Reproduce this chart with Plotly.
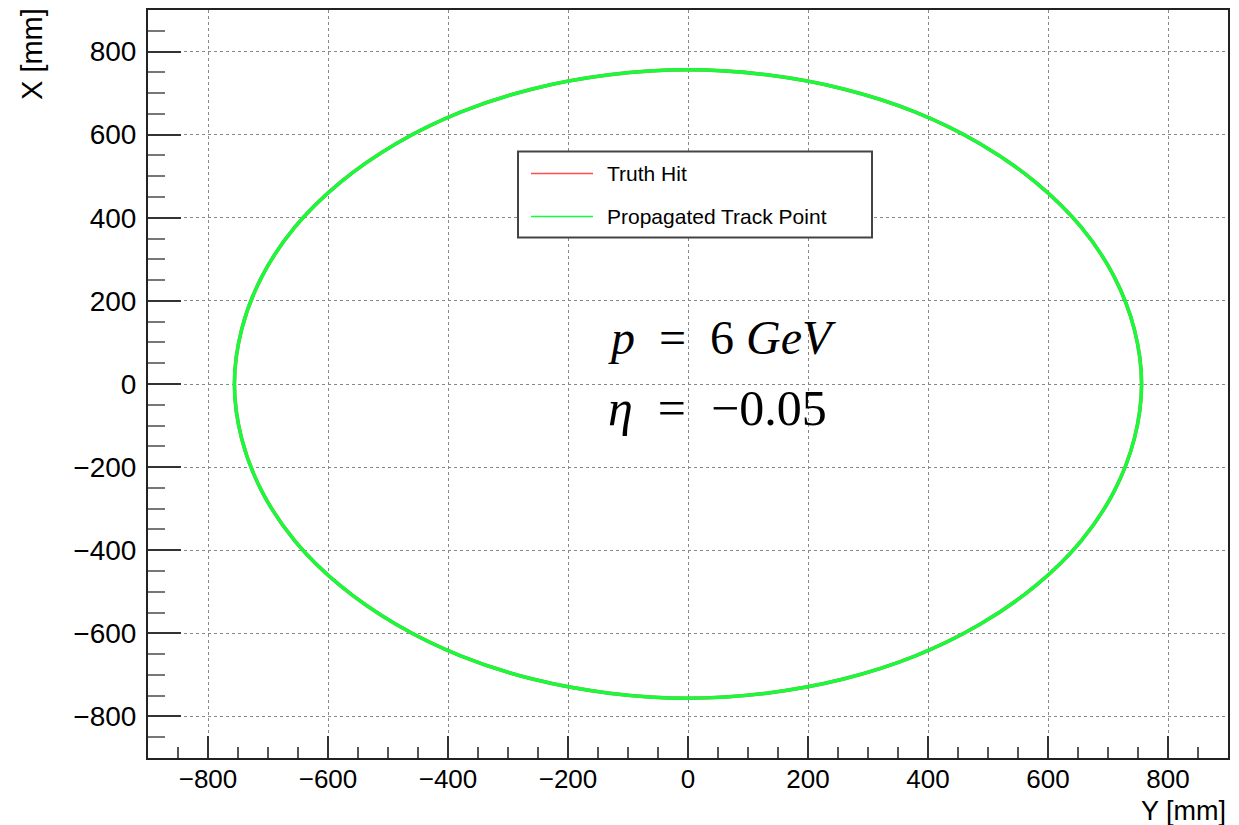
import plotly.graph_objects as go

# Track points (horizontal: Y [mm], vertical: X [mm])
y_mm = [756, 744, 710, 655, 579, 486, 378, 259, 131, 0, -131, -259, -378, -486, -579, -655, -710, -744,
        -756, -744, -710, -655, -579, -486, -378, -259, -131, 0, 131, 259, 378, 486, 579, 655, 710, 744, 756]
x_mm = [0, 131, 259, 378, 486, 579, 655, 710, 744, 756, 744, 710, 655, 579, 486, 378, 259, 131,
        0, -131, -259, -378, -486, -579, -655, -710, -744, -756, -744, -710, -655, -579, -486, -378, -259, -131, 0]

series_names = ["Truth Hit", "Propagated Track Point"]
series_colors = ["#ff4d4d", "#14fc3a"]
tick_vals = [-800, -600, -400, -200, 0, 200, 400, 600, 800]

FONT = "Liberation Sans, Arial, Helvetica, sans-serif"

fig = go.Figure()
fig.add_trace(go.Scatter(x=y_mm, y=x_mm, mode="lines", line=dict(color=series_colors[0], width=3.5, shape="spline"),
                         name=series_names[0], showlegend=False))
fig.add_trace(go.Scatter(x=y_mm, y=x_mm, mode="lines", line=dict(color=series_colors[1], width=3.5, shape="spline"),
                         name=series_names[1], showlegend=False))

axis_common = dict(
    showline=True, linecolor="#222", linewidth=2, mirror=True,
    ticks="inside", tickcolor="#333", tickwidth=1.5,
    showgrid=True, gridcolor="#888", griddash="dot", gridwidth=1,
    zeroline=False, tickvals=tick_vals,
    range=[-900, 900],
)
fig.update_xaxes(**axis_common, ticklen=22,
                 tickfont=dict(family=FONT, size=26, color="black"),
                 minor=dict(dtick=50, tick0=0, ticks="inside", ticklen=11, tickcolor="#555", tickwidth=1.5, showgrid=False),
                 ticklabelstandoff=-3)
fig.update_yaxes(**axis_common, ticklen=33,
                 tickfont=dict(family=FONT, size=28, color="black"),
                 minor=dict(dtick=50, tick0=0, ticks="inside", ticklen=17, tickcolor="#777", tickwidth=1.5, showgrid=False),
                 ticklabelstandoff=4)

# Axis titles (ROOT style: at the axis ends)
fig.add_annotation(text="Y [mm]", xref="paper", yref="paper", x=1, y=0, xanchor="right", yanchor="top",
                   yshift=-36, showarrow=False, font=dict(family=FONT, size=27, color="black"))
fig.add_annotation(text="X [mm]", xref="paper", yref="paper", x=0, y=1, xanchor="right", yanchor="top",
                   xshift=-98, yshift=4, textangle=-90, showarrow=False, font=dict(family=FONT, size=29, color="black"))

# Legend box (ROOT TLegend look)
fig.add_shape(type="rect", xref="paper", yref="paper",
              x0=(518 - 148) / 1080, x1=(872 - 148) / 1080, y0=(758 - 236) / 750, y1=(758 - 150) / 750,
              line=dict(color="#444", width=2), fillcolor="white", layer="above")
legend_rows = [172, 215]
for name, col, row in zip(series_names, series_colors, legend_rows):
    fig.add_shape(type="line", xref="paper", yref="paper",
                  x0=(531 - 148) / 1080, x1=(593 - 148) / 1080,
                  y0=(758 - row) / 750, y1=(758 - row) / 750,
                  line=dict(color=col, width=1.5), layer="above")
    fig.add_annotation(text=name, xref="paper", yref="paper", x=(605 - 148) / 1080, y=(758 - row) / 750,
                       xanchor="left", yanchor="middle", showarrow=False,
                       font=dict(family=FONT, size=21, color="black"))

# Math labels
MATH = "Liberation Serif, DejaVu Serif, serif"
fig.add_annotation(text="<i>p</i>  =  6 <i>GeV</i>", xref="paper", yref="paper",
                   x=(606 - 148) / 1080, y=(758 - 336) / 750, xanchor="left", yanchor="middle",
                   showarrow=False, font=dict(family=MATH, size=48, color="black"))
fig.add_annotation(text="<i>η</i>  =  −0.05", xref="paper", yref="paper",
                   x=(606 - 148) / 1080, y=(758 - 407) / 750, xanchor="left", yanchor="middle",
                   showarrow=False, font=dict(family=MATH, size=50, color="black"))

fig.update_layout(
    width=1239, height=825,
    margin=dict(l=148, r=11, t=8, b=67),
    paper_bgcolor="white", plot_bgcolor="white",
    showlegend=False,
    font=dict(family=FONT, color="black"),
)

fig.write_html("out.html")
